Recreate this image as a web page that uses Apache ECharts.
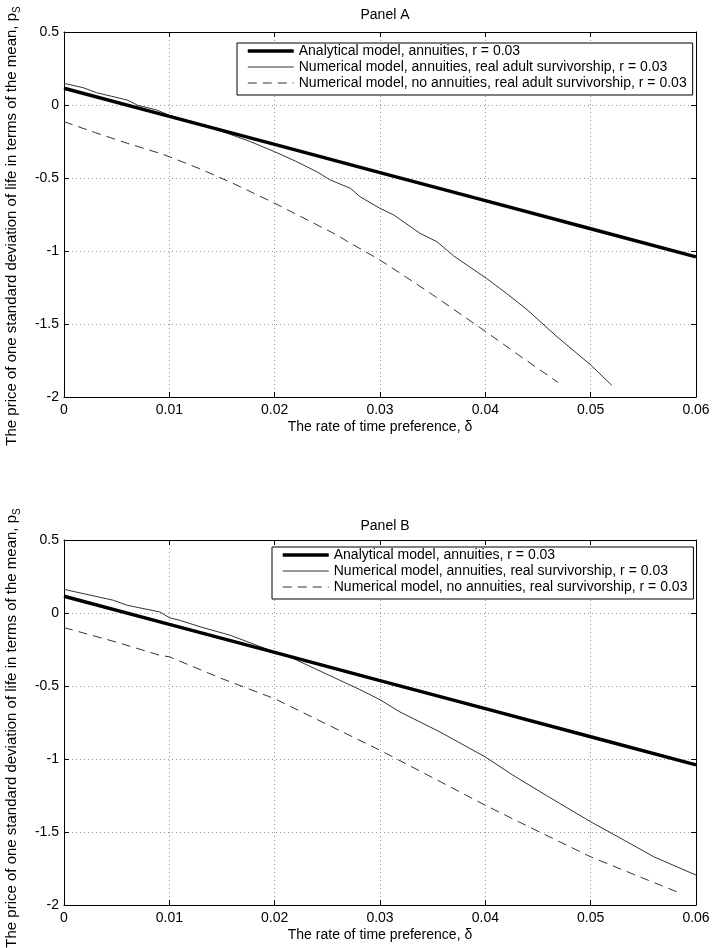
<!DOCTYPE html>
<html>
<head>
<meta charset="utf-8">
<title>Price of one standard deviation of life</title>
<script src="https://cdn.jsdelivr.net/npm/echarts@6/dist/echarts.min.js"></script>
<style>
  html, body { margin: 0; padding: 0; background: #fff; }
  #chart { width: 715px; height: 948px; }
</style>
</head>
<body>
<div id="chart"></div>
<script>
// ---- data ----
const xTicks = [0, 0.01, 0.02, 0.03, 0.04, 0.05, 0.06];
const yTicks = [-2, -1.5, -1, -0.5, 0, 0.5];

// analytical model (same in both panels)
const deltaAnalytical = [0, 0.01, 0.02, 0.03, 0.04, 0.05, 0.06];
const analytical = [0.115, -0.078, -0.27, -0.463, -0.655, -0.848, -1.04];

// Panel A, numerical, annuities, real adult survivorship
const deltaAnnA = [0, 0.0018, 0.0031, 0.0045, 0.006, 0.007, 0.0088, 0.01, 0.012, 0.0155, 0.0177, 0.02, 0.022, 0.024,
  0.0253, 0.0272, 0.0281, 0.03, 0.0313, 0.0338, 0.0354, 0.037, 0.0401, 0.042, 0.044, 0.0468, 0.05, 0.052];
const annA = [0.148, 0.119, 0.084, 0.06, 0.034, -0.002, -0.034, -0.07, -0.11, -0.194, -0.251, -0.32, -0.385, -0.457,
  -0.514, -0.571, -0.628, -0.708, -0.753, -0.879, -0.936, -1.034, -1.187, -1.29, -1.404, -1.587, -1.78, -1.92];

// Panel A, numerical, no annuities
const deltaNoAnnA = [0, 0.003, 0.006, 0.0091, 0.01, 0.013, 0.016, 0.02, 0.0259, 0.0268, 0.03, 0.0325, 0.035, 0.04, 0.0433, 0.0469];
const noAnnA = [-0.114, -0.19, -0.262, -0.331, -0.354, -0.44, -0.535, -0.673, -0.89, -0.93, -1.062, -1.18, -1.3, -1.55, -1.72, -1.9];

// Panel B, numerical, annuities, real survivorship
const deltaAnnB = [0, 0.0047, 0.006, 0.0091, 0.01, 0.011, 0.013, 0.0158, 0.0183, 0.02, 0.0218, 0.0281, 0.03, 0.0319,
  0.0357, 0.04, 0.0426, 0.0458, 0.05, 0.0532, 0.056, 0.06];
const annB = [0.162, 0.087, 0.053, 0.007, -0.032, -0.05, -0.096, -0.153, -0.221, -0.267, -0.313, -0.525, -0.594, -0.678,
  -0.815, -0.986, -1.11, -1.25, -1.43, -1.557, -1.67, -1.795];

// Panel B, numerical, no annuities
const deltaNoAnnB = [0, 0.005, 0.0091, 0.01, 0.015, 0.02, 0.025, 0.03, 0.035, 0.04, 0.045, 0.05, 0.055, 0.0582];
const noAnnB = [-0.1, -0.2, -0.29, -0.3, -0.45, -0.587, -0.764, -0.94, -1.128, -1.317, -1.495, -1.67, -1.817, -1.91];

const nameAnalytical = 'Analytical model, annuities, r = 0.03';
const nameAnnA = 'Numerical model, annuities, real adult survivorship, r = 0.03';
const nameNoAnnA = 'Numerical model, no annuities, real adult survivorship, r = 0.03';
const nameAnnB = 'Numerical model, annuities, real survivorship, r = 0.03';
const nameNoAnnB = 'Numerical model, no annuities, real survivorship, r = 0.03';

const FONT = "'Liberation Sans', Arial, Helvetica, sans-serif";
const FS = 14;
const pairs = (xs, ys) => xs.map((x, i) => [x, ys[i]]);

const thick = { color: '#000', width: 3.5 };
const thin = { color: '#333', width: 1 };
const dashed = { color: '#333', width: 1, type: [9, 6] };

const xAxisFor = (grid, main) => ({
  type: 'value',
  gridIndex: grid,
  position: main ? 'bottom' : 'top',
  min: xTicks[0],
  max: xTicks[xTicks.length - 1],
  interval: 0.01,
  name: main ? 'The rate of time preference, δ' : '',
  nameLocation: 'middle',
  nameGap: 23,
  nameTextStyle: { color: '#000', fontSize: FS, fontFamily: FONT },
  axisLine: { show: true, onZero: false, lineStyle: { color: '#000', width: 1 } },
  axisTick: { show: true, inside: true, length: 5, lineStyle: { color: '#000' } },
  axisLabel: {
    show: main, color: '#000', fontSize: FS, fontFamily: FONT, margin: 6,
    formatter: v => String(+v.toFixed(2))
  },
  splitLine: { show: main, lineStyle: { color: '#999', type: [1, 3] } }
});

const yAxisFor = (grid, main) => ({
  type: 'value',
  gridIndex: grid,
  position: main ? 'left' : 'right',
  min: yTicks[0],
  max: yTicks[yTicks.length - 1],
  interval: 0.5,
  axisLine: { show: true, onZero: false, lineStyle: { color: '#000', width: 1 } },
  axisTick: { show: true, inside: true, length: 5, lineStyle: { color: '#000' } },
  axisLabel: { show: main, color: '#000', fontSize: FS, fontFamily: FONT, margin: 5 },
  splitLine: { show: main, lineStyle: { color: '#999', type: [1, 3] } }
});

const legendFor = (top, left, names, styles) => ({
  orient: 'vertical',
  left: left,
  top: top,
  padding: [1, 6, 5, 9],
  itemWidth: 46,
  itemHeight: 14,
  itemGap: 2,
  backgroundColor: '#fff',
  borderColor: '#000',
  borderWidth: 1,
  borderRadius: 0,
  selectedMode: false,
  textStyle: { color: '#000', fontSize: FS, fontFamily: FONT },
  // line sample only, no marker in the middle
  data: names.map((n, i) => ({ name: n, lineStyle: styles[i], itemStyle: { opacity: 0 } }))
});

const yLabel = y => ({
  type: 'text',
  x: 12,
  y: y,
  rotation: Math.PI / 2,
  style: {
    text: 'The price of one standard deviation of life in terms of the mean, p{s|S}',
    fill: '#000',
    font: '15px ' + FONT,
    align: 'center',
    verticalAlign: 'middle',
    lineHeight: 20,
    rich: { s: { fontSize: 10, fontFamily: FONT, verticalAlign: 'bottom', lineHeight: 20 } }
  }
});

const chart = echarts.init(document.getElementById('chart'));

const option = {
  backgroundColor: '#fff',
  animation: false,
  title: [
    { text: 'Panel A', left: 380, top: 3, textAlign: 'center',
      textStyle: { fontSize: FS, fontWeight: 'normal', color: '#000', fontFamily: FONT } },
    { text: 'Panel B', left: 380, top: 514, textAlign: 'center',
      textStyle: { fontSize: FS, fontWeight: 'normal', color: '#000', fontFamily: FONT } }
  ],
  grid: [
    { left: 64, right: 19, top: 32, height: 365 },
    { left: 64, right: 19, top: 540, height: 365 }
  ],
  xAxis: [xAxisFor(0, true), xAxisFor(0, false), xAxisFor(1, true), xAxisFor(1, false)],
  yAxis: [yAxisFor(0, true), yAxisFor(0, false), yAxisFor(1, true), yAxisFor(1, false)],
  legend: [
    legendFor(43, 237, [nameAnalytical, nameAnnA, nameNoAnnA], [thick, thin, dashed]),
    legendFor(547, 272, [nameAnalytical, nameAnnB, nameNoAnnB], [thick, thin, dashed])
  ],
  graphic: [yLabel(226), yLabel(728)],
  series: [
    { name: nameAnalytical, type: 'line', xAxisIndex: 0, yAxisIndex: 0, symbol: 'none', lineStyle: thick, itemStyle: { color: '#000' },
      data: pairs(deltaAnalytical, analytical), z: 4 },
    { name: nameAnnA, type: 'line', xAxisIndex: 0, yAxisIndex: 0, symbol: 'none', lineStyle: thin, itemStyle: { color: '#333' },
      data: pairs(deltaAnnA, annA), z: 3 },
    { name: nameNoAnnA, type: 'line', xAxisIndex: 0, yAxisIndex: 0, symbol: 'none', lineStyle: dashed, itemStyle: { color: '#333' },
      data: pairs(deltaNoAnnA, noAnnA), z: 3 },
    { name: nameAnalytical, type: 'line', xAxisIndex: 2, yAxisIndex: 2, symbol: 'none', lineStyle: thick, itemStyle: { color: '#000' },
      data: pairs(deltaAnalytical, analytical), z: 4 },
    { name: nameAnnB, type: 'line', xAxisIndex: 2, yAxisIndex: 2, symbol: 'none', lineStyle: thin, itemStyle: { color: '#333' },
      data: pairs(deltaAnnB, annB), z: 3 },
    { name: nameNoAnnB, type: 'line', xAxisIndex: 2, yAxisIndex: 2, symbol: 'none', lineStyle: dashed, itemStyle: { color: '#333' },
      data: pairs(deltaNoAnnB, noAnnB), z: 3 }
  ]
};

chart.setOption(option);
</script>
</body>
</html>
